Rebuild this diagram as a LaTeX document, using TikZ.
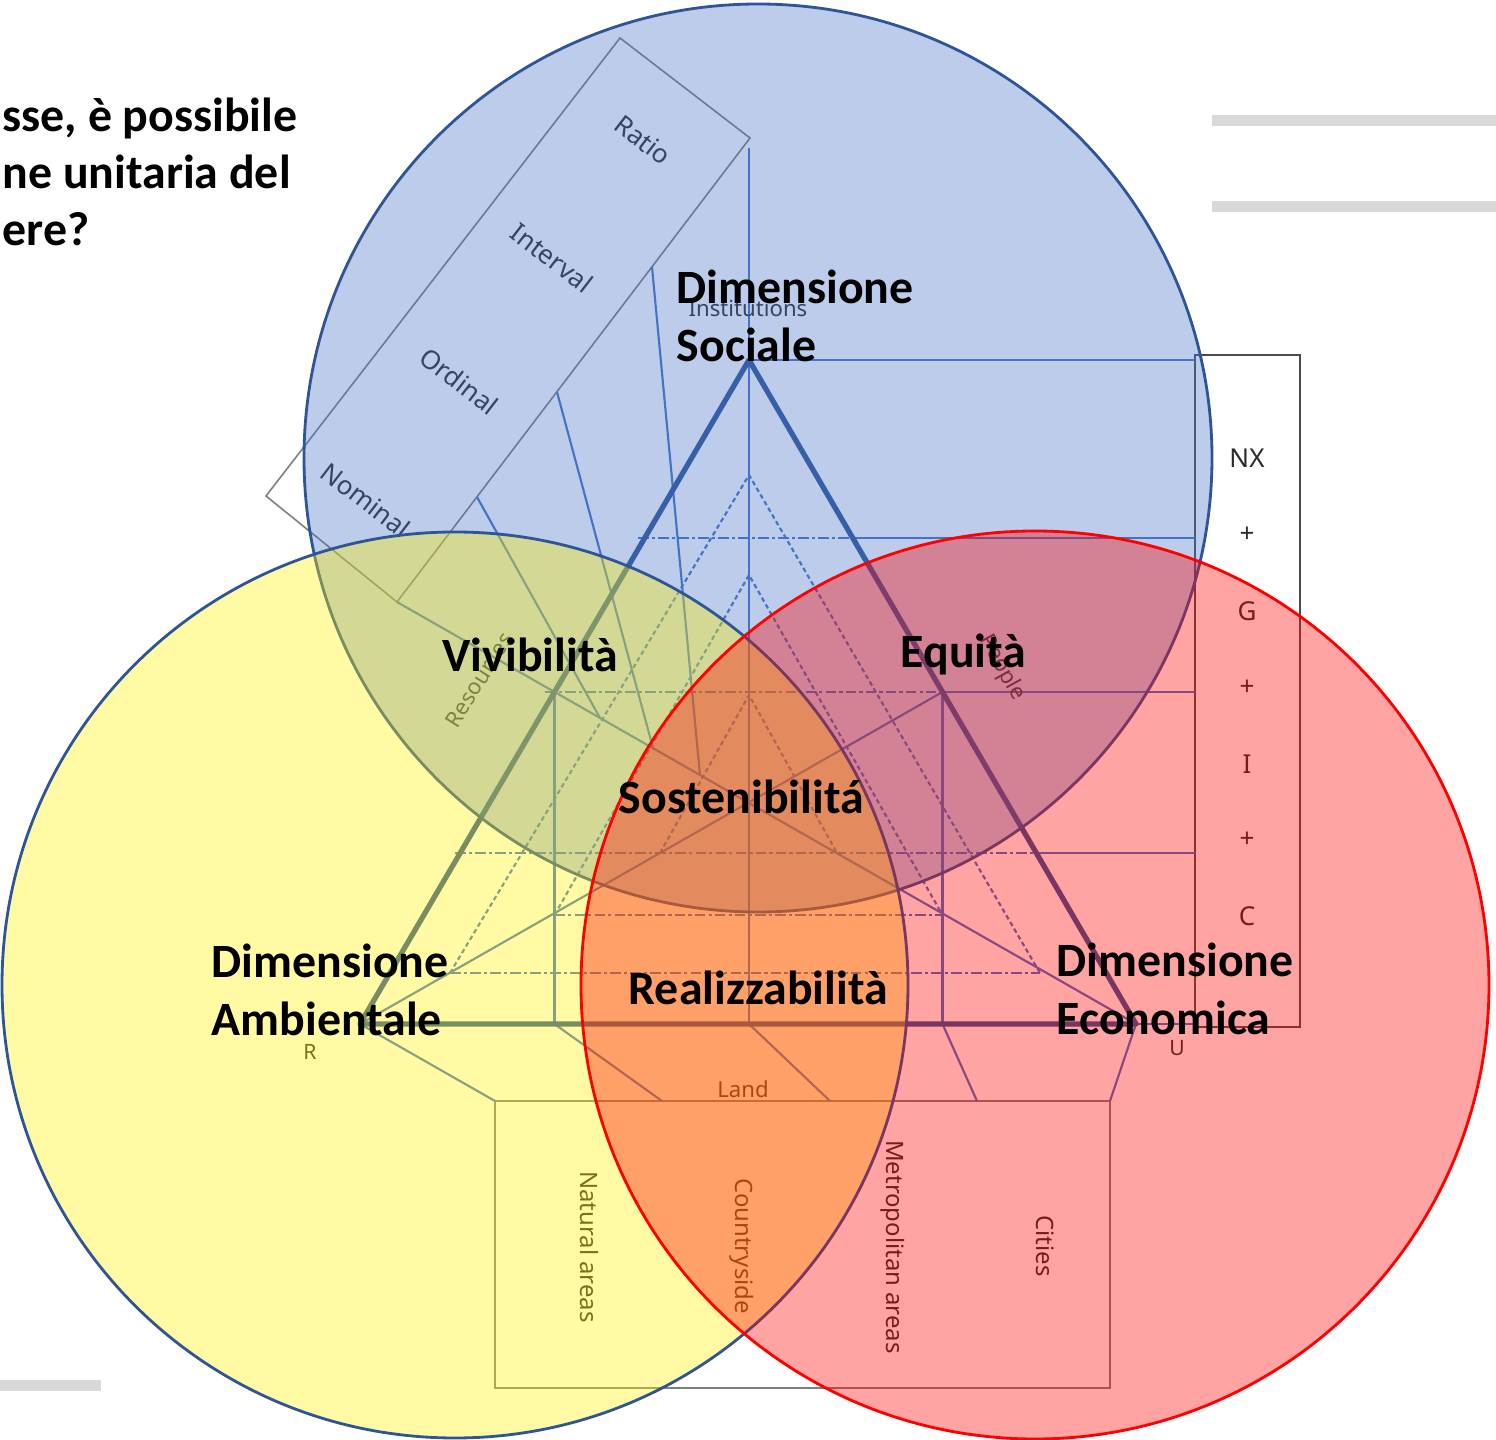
\documentclass[tikz,border=0pt]{standalone}
\usepackage{fontspec}
\setmainfont{Carlito}
\newfontfamily\lblfont{Noto Sans}
\usetikzlibrary{calc}

\definecolor{axisblue}{HTML}{4472C4}
\definecolor{darkblue}{HTML}{2F5597}
\definecolor{boxgrey}{HTML}{7F7F7F}
\definecolor{lblgrey}{HTML}{2B2B2B}
\definecolor{bargrey}{HTML}{D9D9D9}

\tikzset{
  axis/.style={draw=axisblue,line width=0.6pt},
  side/.style={draw=darkblue,line width=1.5pt,line join=round},
  dashline/.style={axis,dash pattern=on 1.3pt off 0.9pt},
  dotdash/.style={axis,dash pattern=on 3pt off 0.9pt on 0.9pt off 0.9pt},
  frame/.style={draw=boxgrey,line width=0.45pt},
  lbl/.style={text=lblgrey,inner sep=0pt,font=\lblfont\fontsize{7.4}{9}\selectfont},
  small/.style={lbl,font=\lblfont\fontsize{6.3}{8}\selectfont},
  big/.style={inner sep=0pt,align=left,font=\bfseries\fontsize{13.6}{16.3}\selectfont},
  venn/.style={line width=0.8pt,fill opacity=0.36}
}

\begin{document}
\begin{tikzpicture}[x=0.01cm,y=-0.01cm]
\useasboundingbox (0,0) rectangle (1496,1440);

\fill[bargrey] (1212,115) rectangle (1496,126);
\fill[bargrey] (1212,201) rectangle (1496,212);
\fill[bargrey] (0,1380) rectangle (101,1391);

\coordinate (I) at (749,360);
\coordinate (R) at (360,1024);
\coordinate (U) at (1136,1024);
\coordinate (mL) at (554.5,692);
\coordinate (mR) at (942.5,692);
\coordinate (mB) at (749,1024);

% scale box
\coordinate (sT) at (620,38);
\coordinate (sR) at (750,138);
\coordinate (sB) at (397,602);
\coordinate (sL) at (266,496);
\draw[frame] (sT) -- (sR) -- (sB) -- (sL) -- cycle;
\node[lbl,rotate=-37.6] (ratio) at (643,140) {Ratio};
\node[lbl,rotate=-37.6] (interval) at (552,258) {Interval};
\node[lbl,rotate=-37.6] (ordinal) at (459,381) {Ordinal};
\node[lbl,rotate=-37.6] (nominal) at (366,500) {Nominal};

% right box
\draw[draw=black!70,line width=0.5pt] (1195,355) rectangle (1300,1027);
\node[lbl] (nx) at (1247,458) {NX};
\node[lbl] (p1) at (1247,535) {+};
\node[lbl] (g) at (1247,611) {G};
\node[lbl] (p2) at (1247,688) {+};
\node[lbl] (i) at (1247,764) {I};
\node[lbl] (p3) at (1247,840) {+};
\node[lbl] (c) at (1247,916) {C};

% land box
\draw[frame] (495,1101) rectangle (1110,1388);
\node[lbl,font=\lblfont\fontsize{6.8}{8}\selectfont,rotate=-90] (natural) at (589,1247) {Natural areas};
\node[lbl,font=\lblfont\fontsize{6.8}{8}\selectfont,rotate=-90] (country) at (742,1246) {Countryside};
\node[lbl,font=\lblfont\fontsize{6.8}{8}\selectfont,rotate=-90] (metro) at (893,1247) {Metropolitan areas};
\node[lbl,font=\lblfont\fontsize{6.8}{8}\selectfont,rotate=-90] (cities) at (1045,1246) {Cities};

% medians and projections
\draw[axis] (749,148) -- (mB);
\draw[axis] (mL) -- (mL |- R);
\draw[axis] (mR) -- (mR |- U);
\draw[axis] (R) -- (mR);
\draw[axis] (U) -- (sB);
\draw[axis] (477,497) -- (600,718);
\draw[axis] (557,392) -- (653,748);
\draw[axis] (652,267) -- (700,775);

\draw[axis] (I) -- (1195,360);
\draw[dotdash] (638,538) -- (852,538);
\draw[axis] (852,538) -- (1195,538);
\draw[dotdash] (545,692) -- (mR);
\draw[axis] (mR) -- (1195,692);
\draw[dotdash] (455,853) -- (1034,853);
\draw[axis] (1034,853) -- (1195,853);
\draw[dotdash] (554.5,915) -- (942.5,915);
\draw[dotdash] (450,973) -- (1040,973);
\draw[axis] (U) -- (1195,1024);

\draw[dashline] (450,973) -- (749,475) -- (1040,973);
\draw[dashline] (554.5,915) -- (749,575) -- (942.5,915);
\draw[dashline] (660,853) -- (749,695) -- (837,853);

\draw[axis] (R) -- (495,1101);
\draw[axis] (mL |- R) -- (662,1101);
\draw[axis] (mB) -- (830,1101);
\draw[axis] (mR |- U) -- (977,1101);
\draw[axis] (U) -- (1110,1101);

\draw[side] (I) -- (R) -- (U) -- cycle;

\node[small] (inst) at (748,308) {Institutions};
\node[small,rotate=58] (res) at (479,680) {Resources};
\node[small,rotate=-61] (people) at (1002,668) {People};
\node[small] (land) at (743,1089) {Land};
\node[small,font=\lblfont\bfseries\fontsize{6}{8}\selectfont] (rlbl) at (310,1052) {R};
\node[small,font=\lblfont\bfseries\fontsize{6}{8}\selectfont] (ulbl) at (1177,1048) {U};

% circles
\draw[venn,draw=darkblue,fill=axisblue] (758,458) circle (454);
\draw[venn,draw=darkblue,fill=yellow] (455,985) circle (453);
\draw[venn,draw=red,fill=red] (1035,985) circle (454);

\node[big,anchor=base west] (quest) at (2,246) {sse, è possibile\\ne unitaria del\\ere?};
\node[big,anchor=west] (soc) at (676,316) {Dimensione\\Sociale};
\node[big,anchor=west] (amb) at (211,990) {Dimensione\\Ambientale};
\node[big,anchor=west] (eco) at (1056,989) {Dimensione\\Economica};
\node[big,anchor=base west] (viv) at (442,672) {Vivibilità};
\node[big,anchor=base west] (equ) at (900,668) {Equità};
\node[big,anchor=base west] (sos) at (618,814) {Sostenibilitá};
\node[big,anchor=base west] (rea) at (628,1005) {Realizzabilità};
\end{tikzpicture}
\end{document}
